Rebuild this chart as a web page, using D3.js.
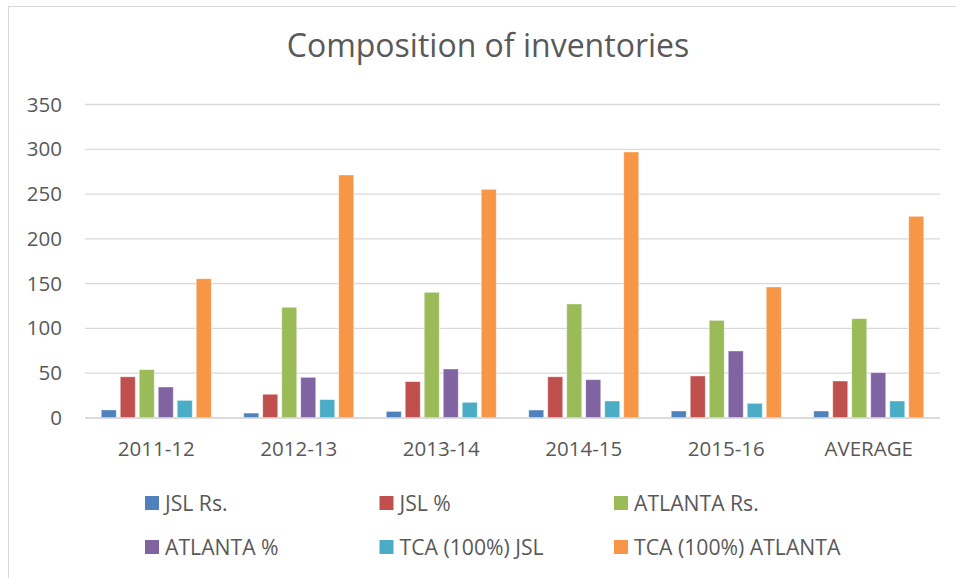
<!DOCTYPE html>
<html>
<head>
<meta charset="utf-8">
<script src="https://cdn.jsdelivr.net/npm/d3@7"></script>
<style>
  body { margin: 0; background: #fff; }
  text { font-family: "Open Sans", sans-serif; fill: #595959; }
</style>
</head>
<body>
<script>
// Categories and series
const years = ["2011-12", "2012-13", "2013-14", "2014-15", "2015-16", "AVERAGE"];
const series = ["JSL Rs.", "JSL %", "ATLANTA Rs.", "ATLANTA %", "TCA (100%) JSL", "TCA (100%) ATLANTA"];
const colors = ["#4F81BD", "#C0504D", "#9BBB59", "#8064A2", "#4BACC6", "#F79646"];

// One array per series, values per year
const jslRs = [9, 5.5, 7.4, 8.9, 7.8, 7.8];
const jslPct = [46, 26.5, 40.6, 46, 46.9, 41.3];
const atlantaRs = [54, 123.6, 140.3, 127.3, 109, 110.9];
const atlantaPct = [34.6, 45.4, 54.7, 42.8, 74.8, 50.6];
const tcaJsl = [19.7, 20.5, 17.5, 19, 16.4, 19];
const tcaAtlanta = [155.5, 271.3, 255.3, 297, 146.3, 225.2];

const yTicks = [0, 50, 100, 150, 200, 250, 300, 350];

const values = [jslRs, jslPct, atlantaRs, atlantaPct, tcaJsl, tcaAtlanta];
const data = years.map((y, i) => ({ year: y, vals: series.map((s, j) => ({ key: s, idx: j, v: values[j][i] })) }));

const width = 956;
const height = 578;
const margin = { top: 104.5, right: 16, bottom: 160, left: 85 };
const chartWidth = width - margin.left - margin.right;   // 855
const chartHeight = 418 - margin.top;                    // 313.5
const labelSize = "20.5px";

const svg = d3.select("body")
    .append("svg")
    .attr("width", width)
    .attr("height", height);

// chart area border (only top and left show in the crop)
svg.append("rect")
    .attr("x", 8.5)
    .attr("y", 6.5)
    .attr("width", 960)
    .attr("height", 600)
    .attr("fill", "none")
    .attr("stroke", "#D9D9D9")
    .attr("stroke-width", 1);

svg.append("text")
    .attr("x", 488)
    .attr("y", 57)
    .attr("text-anchor", "middle")
    .style("font-size", "32px")
    .text("Composition of inventories");

const chart = svg.append("g")
    .attr("transform", `translate(${margin.left}, ${margin.top})`);

const x0 = d3.scaleBand()
    .domain(years)
    .range([0, chartWidth])
    .paddingInner(0.228)
    .paddingOuter(0.114);

const x1 = d3.scaleBand()
    .domain(series)
    .range([0, x0.bandwidth()])
    .paddingInner(0.21);

const yScale = d3.scaleLinear()
    .domain([0, 350])
    .range([chartHeight, 0]);

// gridlines
chart.append("g")
    .selectAll("line")
    .data(yTicks)
    .enter()
    .append("line")
    .attr("x1", 0)
    .attr("x2", chartWidth)
    .attr("y1", d => yScale(d))
    .attr("y2", d => yScale(d))
    .attr("stroke", "#D9D9D9")
    .attr("stroke-width", 1.3);

// y labels
const yAxis = d3.axisLeft(yScale).tickValues(yTicks).tickSize(0).tickPadding(23);
chart.append("g")
    .call(yAxis)
    .call(g => g.select(".domain").remove())
    .selectAll("text")
    .style("font-size", labelSize)
    .style("font-family", "\"Open Sans\", sans-serif")
    .attr("fill", "#595959");

// bars (thin light outline like the original)
const groups = chart.selectAll(".grp")
    .data(data)
    .enter()
    .append("g")
    .attr("class", "grp")
    .attr("transform", d => `translate(${x0(d.year)}, 0)`);

groups.selectAll("rect")
    .data(d => d.vals)
    .enter()
    .append("rect")
    .attr("x", d => x1(d.key))
    .attr("y", d => yScale(d.v))
    .attr("width", x1.bandwidth())
    .attr("height", d => chartHeight - yScale(d.v))
    .attr("fill", d => colors[d.idx])
    .attr("stroke", "#fff")
    .attr("stroke-opacity", 0.5)
    .attr("stroke-width", 0.8);

// x labels
const xAxis = d3.axisBottom(x0).tickSize(0).tickPadding(23);
chart.append("g")
    .attr("transform", `translate(0, ${chartHeight})`)
    .call(xAxis)
    .call(g => g.select(".domain").remove())
    .selectAll("text")
    .style("font-size", labelSize)
    .style("font-family", "\"Open Sans\", sans-serif")
    .attr("fill", "#595959");

// baseline
chart.append("line")
    .attr("x1", 0)
    .attr("x2", chartWidth)
    .attr("y1", chartHeight)
    .attr("y2", chartHeight)
    .attr("stroke", "#D9D9D9")
    .attr("stroke-width", 1.3);

// legend: 3 columns, 2 rows
const legend = svg.append("g");
const legItems = legend.selectAll("g")
    .data(series)
    .enter()
    .append("g")
    .attr("transform", (d, i) => `translate(${145 + (i % 3) * 234.5}, ${496 + Math.floor(i / 3) * 44})`);

legItems.append("rect")
    .attr("width", 14)
    .attr("height", 14)
    .attr("fill", (d, i) => colors[i]);

legItems.append("text")
    .attr("x", 20)
    .attr("y", 14.5)
    .style("font-size", "21.2px")
    .text(d => d);
</script>
</body>
</html>
